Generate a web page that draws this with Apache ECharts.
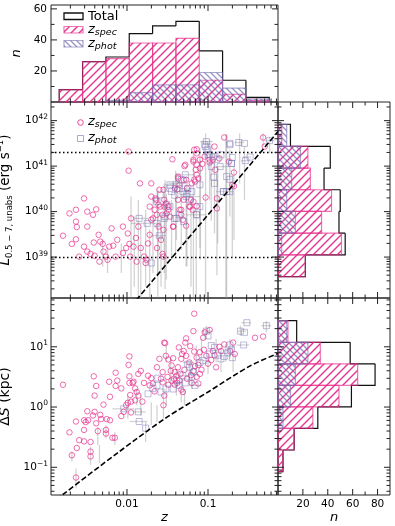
<!DOCTYPE html>
<html>
<head>
<meta charset="utf-8">
<script src="https://cdn.jsdelivr.net/npm/echarts@6/dist/echarts.min.js"></script>
<style>
  html, body { margin: 0; padding: 0; background: #fff; }
  #chart { width: 395px; height: 526px; }
</style>
</head>
<body>
<div id="chart"></div>
<script>
// values are stored as log10 numbers
const zBinEdgesLog = [-2.836, -2.548, -2.26, -1.972, -1.684, -1.396, -1.108, -0.82, -0.532, -0.244];
const nTotalZ = [8, 26, 29, 44, 49, 52, 33, 14, 3];
const nSpecZ = [8, 26, 28, 38, 38, 41, 14, 5, 1];
const nPhotZ = [0, 0, 1, 6, 11, 11, 19, 9, 2];

const lBinEdgesLog = [38.571, 39.05, 39.526, 40.003, 40.48, 40.958, 41.435, 41.921];
const nTotalL = [22, 54, 49, 50, 37, 42, 10];
const nSpecL = [22, 51, 35, 43, 26, 24, 3];
const nPhotL = [0, 3, 14, 7, 11, 18, 7];

const sBinEdgesLog = [-1.071, -0.713, -0.355, 0.002, 0.36, 0.718, 1.075, 1.433];
const nTotalS = [4, 13, 32, 59, 78, 58, 15];
const nSpecS = [4, 13, 28, 49, 64, 34, 8];
const nPhotS = [0, 0, 4, 10, 14, 24, 7];

// [log z, log L]
const specL = [
  [-2.79,39.47],[-2.71,39.96],[-2.68,39.29],[-2.63,40.04],[-2.63,39.78],[-2.62,39.66],[-2.53,40.29],[-2.49,40.0],
  [-2.49,39.67],[-2.42,39.93],[-2.38,40.05],[-2.63,39.39],[-2.59,39.01],[-2.53,39.23],[-2.49,39.12],[-2.45,39.07],
  [-2.41,39.32],[-2.40,39.03],[-2.35,39.49],[-2.34,38.90],[-2.33,39.34],[-2.30,39.29],[-2.29,39.12],[-2.26,39.01],
  [-2.24,38.94],[-2.22,39.23],[-2.19,39.63],[-2.17,39.25],[-2.14,39.01],[-2.12,39.38],[-2.05,39.67],[-2.05,39.09],
  [-2.01,39.2],[-1.98,41.32],[-1.98,40.90],[-1.99,39.52],[-1.97,39.29],[-1.96,39.01],[-1.95,39.85],[-1.92,39.23],
  [-1.89,39.42],[-1.88,38.9],[-1.86,39.67],[-1.84,40.62],[-1.83,39.2],[-1.79,39.01],[-1.77,38.87],[-1.74,39.3],
  [-1.72,39.49],[-1.70,40.33],[-1.68,39.85],[-1.66,40.04],[-1.64,40.26],[-1.63,39.2],[-1.61,39.67],[-1.60,40.48],
  [-1.59,40.11],[-1.58,39.38],[-1.56,39.93],[-1.55,39.01],[-1.54,40.26],[-1.76,38.94],[-1.56,39.07],
  [-1.44,41.15],[-1.29,41.0],[-1.27,40.7],[-1.35,40.59],[-1.38,40.49],[-1.37,40.77],[-1.41,40.51],[-1.52,40.18],
  [-1.54,40.11],[-1.49,40.04],[-1.47,39.89],[-1.43,39.67],[-1.37,40.26],[-1.33,40.04],[-1.31,39.82],[-1.27,39.69],
  [-1.23,40.11],[-1.21,40.26],[-1.19,40.04],[-1.17,40.7],[-1.15,40.92],[-1.14,40.81],[-1.18,41.10],[-1.17,41.36],
  [-1.14,41.28],[-1.12,40.73],[-1.10,41.14],[-1.07,41.05],[-1.04,41.21],[-1.03,40.31],[-0.98,41.08],[-0.94,41.14],
  [-0.92,41.43],[-0.89,40.29],[-0.86,41.17],[-0.80,41.63],[-0.74,41.1],[-0.68,40.86],[-0.68,40.56],[-0.32,41.63],
  [-0.30,41.43],[-1.14,40.12],
  [-1.14,41.37],[-1.18,41.14],[-1.28,41.03],[-1.14,41.03],[-1.10,40.95],[-0.98,41.14],[-0.91,40.92],[-1.70,40.62],
  [-1.55,40.48],[-1.37,40.73],[-1.30,40.70],[-1.26,40.51],[-1.20,40.62],[-1.16,40.66],[-1.30,40.26],[-1.18,40.22],
  [-1.65,40.29],[-1.61,40.15],[-1.72,40.11],[-1.49,40.11],[-1.51,39.96],[-1.63,39.93],[-1.22,40.11],[-1.35,40.04],
  [-1.33,39.93],[-1.43,39.67],[-1.55,39.6],[-1.70,39.82],[-0.70,40.59],[-0.89,40.07]
];
const photL = [
  [-1.85,39.85],[-1.75,39.74],[-1.70,38.87],[-1.63,39.74],[-1.60,39.47],[-1.54,39.85],
  [-1.02,41.54],[-1.03,41.43],[-1.01,41.36],[-0.98,41.25],[-0.96,40.99],[-0.93,40.76],[-0.92,40.62],[-0.89,41.15],
  [-0.84,41.25],[-0.77,40.77],[-0.81,40.44],[-0.77,40.44],[-0.73,41.5],[-0.71,41.06],[-0.70,41.19],[-0.73,40.71],
  [-0.62,41.52],[-0.55,41.5],[-0.54,41.12],[-0.48,41.2],[-0.24,41.56],[-1.28,40.81],[-1.31,40.44],[-1.35,40.51],
  [-1.39,40.6],[-1.41,40.36],[-1.47,40.51],[-1.51,40.15],[-1.27,40.33],[-1.23,40.26],[-1.14,39.93],[-1.35,39.93],
  [-1.39,39.85],[-1.25,40.51],[-1.10,40.59],
  [-1.04,41.47],[-0.73,41.47],[-1.00,41.25],[-0.93,41.21],[-0.71,41.06],[-0.85,40.99],[-1.47,40.59],[-1.45,40.44],
  [-1.33,40.70],[-1.26,40.40],[-1.20,40.44],[-1.59,40.37],[-1.47,40.11],[-1.53,39.89],[-1.41,39.85],[-1.30,39.78],
  [-1.10,40.11],[-0.81,40.44],[-0.73,40.44],[-1.14,39.93],[-1.63,40.22]
];
// [log z, log L low, log L high]
const errLv = [
  [-2.30,38.79,39.38],[-2.24,38.65,39.23],[-2.07,38.65,39.3],[-1.95,38.0,40.33],[-1.91,38.35,39.89],[-1.86,38.0,40.26],
  [-1.83,38.0,39.67],[-1.77,38.35,40.04],[-1.72,38.0,39.6],[-1.68,38.65,40.26],[-1.62,38.0,40.4],[-1.58,38.35,39.89],
  [-1.54,38.65,40.62],[-1.515,38.5,40.4],[-1.45,38.94,40.26],[-1.39,39.38,40.84],[-1.33,39.16,40.62],[-1.27,38.79,40.48],
  [-1.21,38.35,40.26],[-1.145,38.0,40.04],[-1.095,38.94,41.14],[-1.03,38.0,41.72],[-0.98,40.26,41.58],[-0.92,39.52,41.28],
  [-0.88,39.3,40.99],[-0.78,38.0,41.7],[-0.73,39.89,41.36],[-0.68,39.38,40.99],[-0.61,40.62,41.72],[-0.55,40.26,41.43],
  [-0.32,41.43,41.72],[-0.24,41.28,41.65],
  [-1.53,38.3,40.7],[-1.18,38.0,41.3],[-0.89,38.6,40.9],[-0.77,38.0,41.7],[-1.10,39.2,41.4],[-0.96,39.8,41.5],
  [-1.40,39.0,40.9],[-1.26,38.8,40.7],[-1.62,38.6,40.5],[-0.70,39.0,40.8]
];
// [log z low, log z high, log L]
const errLh = [
  [-1.10,-0.94,41.54],[-1.04,-0.90,41.25],[-1.39,-1.165,40.81],[-1.49,-1.27,40.62],[-0.90,-0.69,40.44],[-1.35,-1.10,40.33],
  [-1.27,-1.02,39.93],[-0.67,-0.55,41.52],[-0.57,-0.465,41.2],[-0.59,-0.48,41.12],[-0.30,-0.18,41.56],[-1.95,-1.58,39.74],
  [-1.91,-1.74,39.85],[-1.70,-1.52,39.47],[-1.53,-1.40,40.59],[-1.36,-1.20,40.44],[-0.90,-0.75,40.99]
];

// [log z, log dS]
const specS = [
  [-2.79,0.37],[-2.71,-0.42],[-2.68,-0.80],[-2.63,-1.17],[-2.62,-0.68],[-2.63,-0.24],[-2.59,-0.55],[-2.53,-0.38],
  [-2.53,-0.22],[-2.49,-0.07],[-2.51,-0.25],[-2.48,-0.22],[-2.53,-0.57],[-2.45,-0.58],[-2.45,-0.74],[-2.45,-0.82],
  [-2.42,-0.14],[-2.41,0.51],[-2.40,0.19],[-2.38,0.35],[-2.40,-0.08],[-2.38,-0.27],[-2.36,-0.40],[-2.33,-0.13],
  [-2.32,-0.20],[-2.29,0.04],[-2.26,-0.44],[-2.26,-0.38],[-2.25,-0.20],[-2.22,0.42],[-2.21,-0.22],[-2.21,0.17],
  [-2.18,-0.51],[-2.15,-0.51],[-2.14,0.57],[-2.14,0.35],[-2.12,0.44],[-2.07,0.31],[-2.07,-0.15],[-2.04,-0.08],
  [-2.01,0.03],[-1.99,0.07],[-1.98,0.70],[-1.97,0.84],[-1.97,0.51],[-1.97,0.40],[-1.96,0.20],[-1.95,0.09],
  [-1.95,-0.09],[-1.93,0.40],[-1.92,0.42],[-1.90,0.31],[-1.90,0.11],[-1.88,0.25],[-1.86,0.19],[-1.86,0.55],
  [-1.83,0.60],[-1.81,0.09],[-1.79,0.40],[-1.74,0.52],[-1.72,0.36],[-1.70,0.48],[-1.68,0.39],[-1.66,0.26],
  [-1.63,0.66],[-1.60,0.80],[-1.58,0.47],[-1.55,0.03],[-1.53,1.06],
  [-1.17,1.55],[-1.18,1.26],[-1.36,0.99],[-1.27,1.14],[-1.28,1.07],[-1.22,1.01],[-1.06,1.15],[-1.04,1.24],
  [-0.98,1.28],[-1.54,1.07],[-1.52,0.85],[-1.49,0.79],[-1.43,0.81],[-1.45,0.69],[-1.56,0.58],[-1.41,0.58],
  [-1.37,0.66],[-1.32,0.88],[-1.33,0.80],[-1.30,0.93],[-1.27,0.85],[-1.23,0.74],[-1.17,0.92],[-1.14,0.82],
  [-1.10,0.91],[-1.56,0.41],[-1.49,0.37],[-1.45,0.44],[-1.39,0.52],[-1.35,0.44],[-1.31,0.25],[-1.33,0.29],
  [-1.41,0.37],[-1.21,0.53],[-1.18,0.60],[-1.14,0.50],[-1.10,0.55],[-1.12,0.39],[-1.54,0.19],[-0.94,0.93],
  [-0.92,0.86],[-0.84,0.93],[-0.80,1.04],[-0.73,0.93],[-0.69,1.07],[-0.67,0.88],[-0.42,1.15],[-0.32,1.17],
  [-1.02,0.85],
  [-1.50,0.50],[-1.46,0.60],[-1.42,0.47],[-1.38,0.40],[-1.34,0.55],[-1.29,0.62],[-1.26,0.47],[-1.20,0.40],
  [-1.16,0.68],[-1.12,0.70],[-1.08,0.62],[-1.05,0.95],[-1.00,0.72],[-0.96,0.78],[-0.90,0.66],[-0.86,1.00]
];
const photS = [
  [-1.86,-0.08],[-1.85,-0.24],[-1.77,-0.35],[-2.04,-0.03],[-1.74,0.22],[-1.68,0.31],[-1.62,0.48],[-1.63,0.36],
  [-1.58,0.25],[-1.02,1.26],[-1.0,1.18],[-0.96,1.02],[-0.92,0.99],[-0.88,0.86],[-0.84,0.80],[-0.80,0.84],
  [-0.73,1.03],[-0.71,0.96],[-0.70,0.82],[-0.60,1.26],[-0.55,1.24],[-0.56,1.03],[-0.52,1.40],[-0.28,1.35],
  [-1.25,0.71],[-1.23,0.66],[-1.18,0.58],[-1.31,0.52],[-1.39,0.44],[-1.43,0.30],[-1.35,0.36],[-1.52,0.30],
  [-1.16,0.36],[-1.06,0.77],[-1.10,0.74],[-1.28,0.40],[-1.20,0.50],[-0.98,0.88],[-0.76,0.90]
];
const errSv = [
  [-2.68,-0.91,-0.74],[-2.63,-1.35,-1.02],[-2.45,-0.96,-0.66],[-2.36,-0.63,-0.33],[-2.34,-0.93,-0.63],[-2.26,-0.52,-0.30],
  [-2.15,-0.63,-0.41],[-1.99,-0.19,0.19],[-1.88,0.03,0.30],[-1.83,-0.14,0.19],[-1.77,-0.58,-0.25],[-1.70,-0.30,0.08],
  [-1.63,-0.25,0.03],[-1.55,-0.19,0.19],[-1.515,0.74,1.02],[-1.515,0.03,0.47],[-1.39,0.19,0.63],[-1.33,0.08,0.47],
  [-1.29,0.03,0.30],[-1.23,0.41,0.74],[-1.145,0.63,1.02],[-1.08,0.80,1.13],[-1.02,1.13,1.35],[-0.90,0.74,1.13],
  [-0.84,0.58,0.96],[-0.73,0.80,1.13],[-0.69,0.58,1.02],[-0.60,1.18,1.35],[-0.28,1.24,1.43],
  [-1.46,0.35,0.80],[-1.20,0.30,0.62],[-1.00,0.55,0.90],[-0.78,0.75,1.05]
];
const errSh = [
  [-1.08,-0.94,1.26],[-0.65,-0.49,1.03],[-0.59,-0.47,1.40],[-0.63,-0.53,1.26],[-0.34,-0.22,1.35],[-1.31,-1.17,0.74],
  [-1.37,-1.23,0.52],[-1.23,-1.08,0.36],[-2.18,-1.91,-0.03],[-1.97,-1.75,-0.24],[-1.93,-1.77,-0.08],[-1.12,-0.98,0.77]
];

// dashed curves and dotted luminosity levels
const limitL = [[-1.95,37.92],[-1.864,38.1],[-1.0,39.93],[-0.136,41.76]];
const limitS = [[-2.95,-1.62],[-2.794,-1.455],[-2.115,-0.76],[-1.519,-0.18],[-1.0,0.25],[-0.485,0.68],[-0.136,0.89]];
const lumLevels = [2e41, 1e39];

const P = v => Math.pow(10, v);
const Z_MIN = P(-2.938), Z_MAX = P(-0.136);
const L_MIN = P(38.1), L_MAX = P(42.41);
const S_MIN = P(-1.46), S_MAX = P(1.81);
const FONT = 'DejaVu Sans';
const PINK = '#e7298a', PURPLE = '#7570b3';
const PINK_EDGE = 'rgba(231,41,138,0.65)', PURPLE_EDGE = 'rgba(117,112,179,0.6)';
const ERR = 'rgba(150,150,150,0.42)';

function hatch(color, slash, size, lw, alpha) {
  const c = document.createElement('canvas');
  c.width = size; c.height = size;
  const g = c.getContext('2d');
  g.strokeStyle = color; g.globalAlpha = alpha; g.lineWidth = lw;
  g.beginPath();
  if (slash) {
    g.moveTo(-1, size + 1); g.lineTo(size + 1, -1);
    g.moveTo(-1, 1); g.lineTo(1, -1);
    g.moveTo(size - 1, size + 1); g.lineTo(size + 1, size - 1);
  } else {
    g.moveTo(-1, -1); g.lineTo(size + 1, size + 1);
    g.moveTo(size - 1, -1); g.lineTo(size + 1, 1);
    g.moveTo(-1, size - 1); g.lineTo(1, size + 1);
  }
  g.stroke();
  return c;
}
const pinkFill = { image: hatch(PINK, true, 8, 1.4, 0.95), repeat: 'repeat' };
const purpleFill = { image: hatch(PURPLE, false, 6, 1.3, 0.75), repeat: 'repeat' };

function binData(edges, counts) {
  const out = [];
  counts.forEach((n, i) => { if (n > 0) out.push([P(edges[i]), P(edges[i + 1]), n]); });
  return out;
}
function stepData(edges, counts) {
  return counts.map((n, i) => [P(edges[i]), P(edges[i + 1]), n, i ? counts[i - 1] : 0, i === counts.length - 1 ? 1 : 0]);
}
function barRender(horizontal, style) {
  return function (params, api) {
    const lo = api.value(0), hi = api.value(1), n = api.value(2);
    const a = horizontal ? api.coord([0, lo]) : api.coord([lo, 0]);
    const b = horizontal ? api.coord([n, hi]) : api.coord([hi, n]);
    return {
      type: 'rect',
      shape: { x: Math.min(a[0], b[0]), y: Math.min(a[1], b[1]), width: Math.abs(b[0] - a[0]), height: Math.abs(b[1] - a[1]) },
      style: style
    };
  };
}
function stepRender(horizontal) {
  return function (params, api) {
    const lo = api.value(0), hi = api.value(1), n = api.value(2), prev = api.value(3);
    const pts = horizontal
      ? [api.coord([prev, lo]), api.coord([n, lo]), api.coord([n, hi])]
      : [api.coord([lo, prev]), api.coord([lo, n]), api.coord([hi, n])];
    if (api.value(4)) pts.push(horizontal ? api.coord([0, hi]) : api.coord([hi, 0]));
    return { type: 'polyline', shape: { points: pts }, style: { stroke: '#111', lineWidth: 1.2, fill: null } };
  };
}
function histSeries(gi, horizontal, edges, total, spec, phot) {
  const enc = horizontal ? { x: 2, y: [0, 1] } : { x: [0, 1], y: 2 };
  const base = { type: 'custom', xAxisIndex: gi, yAxisIndex: gi, encode: enc, silent: true };
  return [
    Object.assign({}, base, { renderItem: stepRender(horizontal), data: stepData(edges, total),
      encode: horizontal ? { x: [2, 3], y: [0, 1] } : { x: [0, 1], y: [2, 3] } }),
    Object.assign({}, base, { renderItem: barRender(horizontal, { fill: pinkFill, stroke: PINK_EDGE, lineWidth: 1.2 }), data: binData(edges, spec) }),
    Object.assign({}, base, { renderItem: barRender(horizontal, { fill: purpleFill, stroke: PURPLE_EDGE, lineWidth: 1.2 }), data: binData(edges, phot) })
  ];
}

// inward ticks on all four sides of a panel
function logTicks(e0, e1) {
  const out = [];
  for (let e = e0; e <= e1; e++) for (let k = 1; k < 10; k++) out.push([k * P(e), k === 1 ? 6 : 3.5]);
  return out;
}
function linTicks(maxV) {
  const out = [];
  for (let v = 0; v <= maxV; v += 10) out.push([v, v % 20 === 0 ? 6 : 3.5]);
  return out;
}
function tickSeries(gi, xt, yt, xDummy, yDummy) {
  const data = xt.map(t => [t[0], yDummy, 0, t[1]]).concat(yt.map(t => [xDummy, t[0], 1, t[1]]));
  return {
    type: 'custom', xAxisIndex: gi, yAxisIndex: gi, silent: true, z: 10,
    encode: { x: 0, y: 1 },
    data: data,
    renderItem: function (params, api) {
      const cs = params.coordSys;
      const p = api.coord([api.value(0), api.value(1)]);
      const len = api.value(3);
      const st = { stroke: '#222', lineWidth: 1 };
      if (api.value(2) === 0) {
        if (p[0] < cs.x + 0.5 || p[0] > cs.x + cs.width - 0.5) return;
        return { type: 'group', children: [
          { type: 'line', shape: { x1: p[0], y1: cs.y + cs.height, x2: p[0], y2: cs.y + cs.height - len }, style: st },
          { type: 'line', shape: { x1: p[0], y1: cs.y, x2: p[0], y2: cs.y + len }, style: st }
        ] };
      }
      if (p[1] < cs.y + 0.5 || p[1] > cs.y + cs.height - 0.5) return;
      return { type: 'group', children: [
        { type: 'line', shape: { x1: cs.x, y1: p[1], x2: cs.x + len, y2: p[1] }, style: st },
        { type: 'line', shape: { x1: cs.x + cs.width, y1: p[1], x2: cs.x + cs.width - len, y2: p[1] }, style: st }
      ] };
    }
  };
}

function vErr(gi, rows) {
  return {
    type: 'custom', xAxisIndex: gi, yAxisIndex: gi, silent: true, clip: true,
    encode: { x: 0, y: [1, 2] },
    data: rows.map(r => [P(r[0]), P(r[1]), P(r[2])]),
    renderItem: function (params, api) {
      const a = api.coord([api.value(0), api.value(1)]), b = api.coord([api.value(0), api.value(2)]);
      return { type: 'line', shape: { x1: a[0], y1: a[1], x2: b[0], y2: b[1] }, style: { stroke: ERR, lineWidth: 1.3 } };
    }
  };
}
function hErr(gi, rows) {
  return {
    type: 'custom', xAxisIndex: gi, yAxisIndex: gi, silent: true, clip: true,
    encode: { x: [0, 1], y: 2 },
    data: rows.map(r => [P(r[0]), P(r[1]), P(r[2])]),
    renderItem: function (params, api) {
      const a = api.coord([api.value(0), api.value(2)]), b = api.coord([api.value(1), api.value(2)]);
      return { type: 'line', shape: { x1: a[0], y1: a[1], x2: b[0], y2: b[1] }, style: { stroke: ERR, lineWidth: 1.3 } };
    }
  };
}
function scatter(gi, rows, phot) {
  return {
    type: 'scatter', xAxisIndex: gi, yAxisIndex: gi, silent: true,
    symbol: phot ? 'rect' : 'circle', symbolSize: phot ? 6 : 5.5,
    itemStyle: { color: 'rgba(0,0,0,0)', borderColor: phot ? PURPLE_EDGE : 'rgba(231,41,138,0.85)', borderWidth: 1 },
    data: rows.map(r => [P(r[0]), P(r[1])])
  };
}
function dashed(gi, rows, smooth) {
  return {
    type: 'line', xAxisIndex: gi, yAxisIndex: gi, silent: true, showSymbol: false, smooth: smooth, clip: true,
    lineStyle: { color: '#000', width: 1.6, type: [5.5, 2.5] },
    data: rows.map(r => [P(r[0]), P(r[1])])
  };
}

const tickRich = {
  b: { fontFamily: FONT, fontSize: 10.5, lineHeight: 15, color: '#000' },
  s: { fontFamily: FONT, fontSize: 7.5, lineHeight: 8, verticalAlign: 'top', color: '#000' }
};
function logLabel(v) {
  const e = Math.log10(v), r = Math.round(e);
  if (Math.abs(e - r) > 1e-6) return '';
  return '{b|10}{s|' + (r < 0 ? '\u2212' + (-r) : r) + '}';
}
const noLabel = { show: false };
function axisBase(gi) {
  return { gridIndex: gi, axisLine: { show: false }, axisTick: { show: false }, splitLine: { show: false }, minorTick: { show: false } };
}
function zAxis(gi, labels) {
  return Object.assign(axisBase(gi), {
    type: 'log', logBase: 10, min: Z_MIN, max: Z_MAX,
    axisLabel: labels ? {
      interval: 0, margin: 4, fontFamily: FONT, fontSize: 10.5, color: '#000',
      formatter: function (v) {
        const e = Math.log10(v), r = Math.round(e);
        if (Math.abs(e - r) > 1e-6) return '';
        return r === -2 ? '0.01' : r === -1 ? '0.1' : '0.001';
      }
    } : noLabel,
    name: labels ? 'z' : '', nameLocation: 'middle', nameGap: 14,
    nameTextStyle: { fontFamily: FONT, fontSize: 13, fontStyle: 'italic', color: '#000' }
  });
}
function countAxis(gi, maxV, labels, name) {
  return Object.assign(axisBase(gi), {
    type: 'value', min: 0, max: maxV, interval: 20,
    axisLabel: labels ? {
      margin: 4, fontFamily: FONT, fontSize: 10.5, color: '#000',
      formatter: v => (v > 0 && v % 20 === 0) ? String(v) : ''
    } : noLabel,
    name: name, nameLocation: 'middle',
    nameTextStyle: { fontFamily: FONT, fontSize: 13, fontStyle: 'italic', color: '#000' }
  });
}
function logAxis(gi, lo, hi, labels) {
  return Object.assign(axisBase(gi), {
    type: 'log', logBase: 10, min: lo, max: hi,
    axisLabel: labels ? { interval: 0, margin: 3, formatter: logLabel, rich: tickRich } : noLabel
  });
}

const yL = logAxis(1, L_MIN, L_MAX, true);
yL.name = '{i|L}{sb|0.5 \u2212 7, unabs}{r| (erg s}{sp|\u22121}{r|)}';
yL.nameLocation = 'middle';
yL.nameGap = 25;
yL.nameTextStyle = {
  rich: {
    i: { fontFamily: FONT, fontSize: 13.5, fontStyle: 'italic', lineHeight: 18, color: '#000' },
    r: { fontFamily: FONT, fontSize: 13.5, lineHeight: 18, color: '#000' },
    sb: { fontFamily: FONT, fontSize: 8.5, lineHeight: 8, verticalAlign: 'bottom', color: '#000' },
    sp: { fontFamily: FONT, fontSize: 8.5, lineHeight: 8, verticalAlign: 'top', color: '#000' }
  }
};
const yS = logAxis(2, S_MIN, S_MAX, true);
yS.name = '{r|\u0394}{i|S}{r| (kpc)}';
yS.nameLocation = 'middle';
yS.nameGap = 31;
yS.nameTextStyle = {
  rich: {
    i: { fontFamily: FONT, fontSize: 14, fontStyle: 'italic', color: '#000' },
    r: { fontFamily: FONT, fontSize: 14, color: '#000' }
  }
};
const yN = countAxis(0, 62.5, true, 'n');
yN.nameGap = 23;
const xN = countAxis(4, 90, true, 'n');
xN.nameGap = 14;

const legendRich = {
  z: { fontFamily: FONT, fontSize: 13, fontStyle: 'italic', lineHeight: 16, fill: '#000', color: '#000' },
  s: { fontFamily: FONT, fontSize: 9.5, fontStyle: 'italic', lineHeight: 9, verticalAlign: 'bottom', fill: '#000', color: '#000' }
};

const gridBase = { show: true, borderColor: '#222', borderWidth: 1, backgroundColor: 'transparent', containLabel: false, outerBoundsMode: 'none' };
const chart = echarts.init(document.getElementById('chart'), null, { renderer: 'canvas' });
chart.setOption({
  animation: false,
  backgroundColor: '#fff',
  grid: [
    Object.assign({ left: 51, top: 5, width: 227, height: 97 }, gridBase),
    Object.assign({ left: 51, top: 102, width: 227, height: 196 }, gridBase),
    Object.assign({ left: 51, top: 298, width: 227, height: 197 }, gridBase),
    Object.assign({ left: 278, top: 102, width: 112, height: 196 }, gridBase),
    Object.assign({ left: 278, top: 298, width: 112, height: 197 }, gridBase)
  ],
  xAxis: [zAxis(0, false), zAxis(1, false), zAxis(2, true), countAxis(3, 90, false, ''), xN],
  yAxis: [yN, yL, yS, logAxis(3, L_MIN, L_MAX, false), logAxis(4, S_MIN, S_MAX, false)],
  series: [].concat(
    histSeries(0, false, zBinEdgesLog, nTotalZ, nSpecZ, nPhotZ),
    histSeries(3, true, lBinEdgesLog, nTotalL, nSpecL, nPhotL),
    histSeries(4, true, sBinEdgesLog, nTotalS, nSpecS, nPhotS),
    [
      vErr(1, errLv), hErr(1, errLh), vErr(2, errSv), hErr(2, errSh),
      Object.assign(scatter(1, specL, false), {
        markLine: {
          silent: true, symbol: 'none', label: { show: false },
          lineStyle: { color: '#000', width: 1.4, type: [1.5, 2.5] },
          data: lumLevels.map(v => ({ yAxis: v }))
        }
      }),
      scatter(1, photL, true),
      scatter(2, specS, false),
      scatter(2, photS, true),
      dashed(1, limitL, false),
      dashed(2, limitS, 0.3),
      tickSeries(0, logTicks(-3, -1), linTicks(60), Z_MIN * 2, 1),
      tickSeries(1, logTicks(-3, -1), logTicks(38, 42), Z_MIN * 2, L_MIN * 2),
      tickSeries(2, logTicks(-3, -1), logTicks(-2, 1), Z_MIN * 2, S_MIN * 2),
      tickSeries(3, linTicks(90), logTicks(38, 42), 1, L_MIN * 2),
      tickSeries(4, linTicks(90), logTicks(-2, 1), 1, S_MIN * 2)
    ]
  ),
  graphic: [
    { type: 'rect', shape: { x: 64, y: 13, width: 19, height: 6.5 }, style: { fill: null, stroke: '#111', lineWidth: 1.3 } },
    { type: 'text', x: 88, y: 16.5, style: { text: 'Total', fontFamily: FONT, fontSize: 13, fill: '#000', verticalAlign: 'middle' } },
    { type: 'rect', shape: { x: 64, y: 26.5, width: 19, height: 6.5 }, style: { fill: pinkFill, stroke: PINK_EDGE, lineWidth: 1.2 } },
    { type: 'text', x: 88, y: 29.5, style: { text: '{z|z}{s|spec}', rich: legendRich, verticalAlign: 'middle' } },
    { type: 'rect', shape: { x: 64, y: 40.5, width: 19, height: 6.5 }, style: { fill: purpleFill, stroke: PURPLE_EDGE, lineWidth: 1.2 } },
    { type: 'text', x: 88, y: 43.5, style: { text: '{z|z}{s|phot}', rich: legendRich, verticalAlign: 'middle' } },
    { type: 'circle', shape: { cx: 80.5, cy: 122.5, r: 2.8 }, style: { fill: null, stroke: 'rgba(231,41,138,0.85)', lineWidth: 1 } },
    { type: 'text', x: 88, y: 122, style: { text: '{z|z}{s|spec}', rich: legendRich, verticalAlign: 'middle' } },
    { type: 'rect', shape: { x: 77.5, y: 135.5, width: 6, height: 6 }, style: { fill: null, stroke: PURPLE_EDGE, lineWidth: 1 } },
    { type: 'text', x: 88, y: 138, style: { text: '{z|z}{s|phot}', rich: legendRich, verticalAlign: 'middle' } }
  ]
});
</script>
</body>
</html>
